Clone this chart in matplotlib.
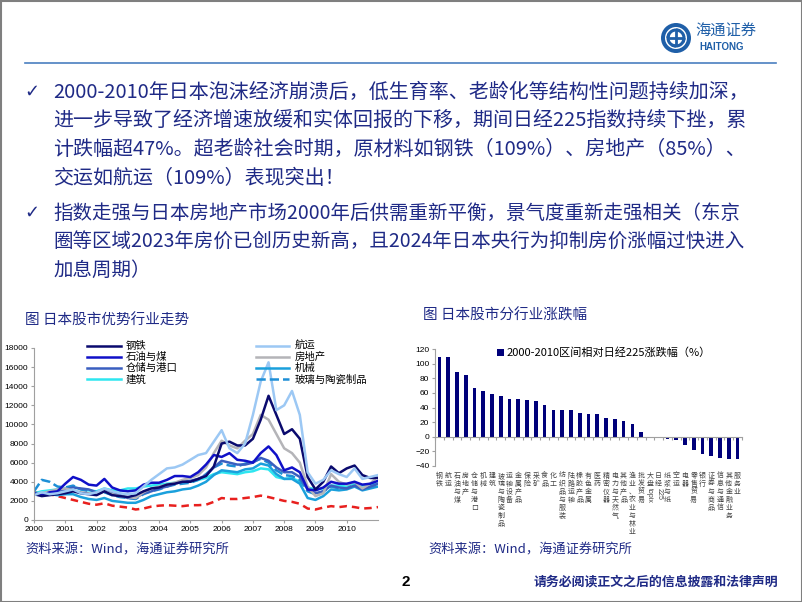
import numpy as np
import matplotlib
matplotlib.use("Agg")
import matplotlib.pyplot as plt
from matplotlib.patches import Circle, Rectangle, Arc

plt.rcParams['font.family'] = ['Noto Sans CJK SC', 'DejaVu Sans']

NAVY = "#1f2a86"

# ---------------- 数据 ----------------
# 季度数据 2000Q1 ~ 2011Q1
years = 2000 + np.arange(45) / 4

steel = [2700, 2500, 2600, 2700, 2800, 3000, 2800, 2700, 2600, 3000, 2600, 2500,
         2400, 2600, 3000, 3300, 3400, 3700, 3800, 4000, 4000, 4300, 4600, 5600,
         8000, 8200, 7800, 7800, 8500, 10500, 13000, 11000, 9000, 9500, 8500, 4500,
         3200, 4000, 5600, 4900, 5400, 5700, 4700, 4400, 4400]
oil_coal = [2800, 2600, 2900, 3000, 3800, 4500, 4200, 3700, 3600, 4300, 3400, 3100,
            3000, 3100, 3700, 3900, 3900, 4200, 4600, 4600, 4500, 5000, 5800, 6800,
            6600, 7000, 6300, 6200, 6000, 7000, 7700, 6800, 5200, 5500, 5000, 3200,
            3100, 3400, 4000, 3800, 3800, 4000, 3700, 3800, 4100]
warehouse = [2700, 2600, 2800, 3000, 3200, 3400, 3300, 3200, 2900, 3100, 2800, 2600,
             2300, 2300, 2800, 3000, 3300, 3500, 3800, 4000, 4100, 4300, 4700, 5500,
             6200, 6000, 5800, 5800, 6000, 6500, 6200, 5500, 5000, 5000, 4500, 3200,
             2800, 3000, 3600, 3400, 3300, 3600, 3200, 3500, 3800]
construction = [2800, 3000, 3100, 3200, 3300, 3500, 3200, 3100, 3000, 3300, 3100, 3100,
                3300, 3300, 3500, 3600, 3700, 3800, 3900, 4000, 4000, 4200, 4400, 4800,
                5000, 4900, 4800, 5000, 5100, 5400, 5300, 4500, 4300, 4400, 4000, 3400,
                3200, 3300, 3600, 3600, 3500, 3800, 3600, 3700, 3800]
shipping = [2600, 2900, 2700, 2800, 3000, 3200, 2800, 2700, 2900, 3300, 3000, 2800,
            2700, 2800, 3500, 4200, 4800, 5400, 5500, 5800, 6300, 6800, 7000, 8200,
            9400, 7500, 7000, 8000, 11000, 14500, 16500, 11500, 12000, 13500, 11000, 5000,
            3800, 4200, 5200, 4800, 4500, 5400, 4300, 4500, 4700]
real_estate = [2700, 2800, 3000, 3200, 3300, 3100, 2900, 2800, 2800, 3000, 2700, 2500,
               2400, 2300, 2900, 3300, 3500, 3700, 3900, 4200, 4400, 4700, 5500, 7000,
               8300, 7800, 7500, 8300, 9000, 11000, 10500, 9000, 7500, 7000, 6000, 3500,
               2500, 2800, 4800, 4000, 3700, 4000, 3300, 3800, 4600]
machinery = [2800, 2700, 2700, 2600, 2700, 2700, 2400, 2200, 2100, 2300, 2000, 1900,
             1800, 1800, 2100, 2500, 2700, 2900, 3000, 3200, 3300, 3600, 4000, 4700,
             5200, 5100, 5000, 5300, 5400, 5900, 5700, 4800, 4300, 4300, 3800, 2300,
             2100, 2500, 3200, 3100, 3200, 3500, 3100, 3300, 3500]
glass = [3000, 4200, 4000, 3500, 3400, 3600, 3200, 3000, 2700, 2900, 2600, 2400,
         2300, 2200, 2700, 3000, 3200, 3500, 3700, 3800, 3900, 4200, 4800, 5500,
         5900, 5700, 5600, 5900, 6100, 6400, 6000, 5200, 4700, 4600, 4200, 3000,
         2700, 3000, 3500, 3300, 3300, 3700, 3300, 3400, 3600]
nikkei = [2900, 2850, 2700, 2500, 2300, 2100, 1900, 1700, 1600, 1750, 1500, 1400,
          1300, 1100, 1200, 1400, 1500, 1550, 1500, 1450, 1550, 1550, 1600, 1900,
          2300, 2200, 2200, 2300, 2400, 2550, 2400, 2200, 2000, 1900, 1700, 1200,
          1100, 1300, 1450, 1350, 1450, 1350, 1200, 1250, 1350]

industries = ["钢铁", "航运", "石油与煤", "房地产", "仓储与港口", "机械", "建筑",
              "玻璃与陶瓷制品", "运输设备", "金属产品", "保险", "采矿", "食品", "化工",
              "纺织品与服装", "陆路运输", "橡胶产品", "有色金属", "医药", "精密仪器",
              "电力与天然气", "其他产品", "渔业、农业与林业", "批发贸易", "大盘topix",
              "日经225", "纸浆与纸", "空运", "电器", "零售贸易", "银行", "证券与商品",
              "信息与通信", "其他金融业务", "服务业"]
rel_return = [109, 109, 89, 85, 66, 62, 59, 56, 51, 51, 50, 49, 43, 37, 37, 36, 32,
              31, 31, 26, 24, 21, 17, 7, 0, 0, -3, -4, -11, -18, -23, -27, -29, -31, -31]

# ---------------- 画布 ----------------
fig = plt.figure(figsize=(8.02, 6.02), dpi=100)
bg = fig.add_axes([0, 0, 1, 1])
bg.set_xlim(0, 802)
bg.set_ylim(602, 0)
bg.axis("off")
bg.add_patch(Rectangle((0.5, 0.5), 801, 601, fill=False, ec="#7f7f7f", lw=1.5))

# 顶部 logo 与分隔线
bg.plot([25, 776], [63, 63], color="#4a7fc0", lw=1.2)
bg.add_patch(Circle((676, 38), 15, fc="#1f5fa8", ec="none"))
bg.add_patch(Circle((676, 38), 11, fc="white", ec="none"))
for ang in (0, 90, 180, 270):
    bg.add_patch(Arc((676, 38), 16, 16, angle=ang, theta1=0, theta2=120,
                     color="#1f5fa8", lw=2.2))
bg.plot([670, 682], [38, 38], color="#1f5fa8", lw=2)
bg.plot([676, 676], [32, 44], color="#1f5fa8", lw=2)
bg.text(695, 31, "海通证券", fontsize=11, color="#1f5fa8", va="center",
        style="italic")
bg.text(722, 47, "HAITONG", fontsize=7, color="#1f5fa8", va="center",
        ha="center", fontweight="bold", family=["Liberation Sans"])

# 正文要点
lines1 = ["2000-2010年日本泡沫经济崩溃后，低生育率、老龄化等结构性问题持续加深，",
          "进一步导致了经济增速放缓和实体回报的下移，期间日经225指数持续下挫，累",
          "计跌幅超47%。超老龄社会时期，原材料如钢铁（109%）、房地产（85%）、",
          "交运如航运（109%）表现突出！"]
lines2 = ["指数走强与日本房地产市场2000年后供需重新平衡，景气度重新走强相关（东京",
          "圈等区域2023年房价已创历史新高，且2024年日本央行为抑制房价涨幅过快进入",
          "加息周期）"]
for ys, lines, fs in ((92, lines1, 14.4), (213, lines2, 14.0)):
    bg.text(32, ys, "✓", fontsize=13, color=NAVY, va="center", ha="center",
            family=["DejaVu Sans"])
    for k, s in enumerate(lines):
        bg.text(53, ys + k * 28.8, s, fontsize=fs, color=NAVY, va="center")

# 图标题与来源
bg.text(25, 321, "图 日本股市优势行业走势", fontsize=10.5, color=NAVY, va="center")
bg.text(423, 316, "图 日本股市分行业涨跌幅", fontsize=10.5, color=NAVY, va="center")
bg.text(25, 550, "资料来源：Wind，海通证券研究所", fontsize=9.5, color=NAVY, va="center")
bg.text(428, 550, "资料来源：Wind，海通证券研究所", fontsize=9.5, color=NAVY, va="center")

# 页脚
bg.text(402, 582, "2", fontsize=11, fontweight="bold", va="center",
        family=["Liberation Sans"])
bg.text(778, 582, "请务必阅读正文之后的信息披露和法律声明", fontsize=9.3,
        fontweight="bold", color=NAVY, va="center", ha="right")

# ---------------- 左图：行业走势 ----------------
ax1 = fig.add_axes([34 / 802, (602 - 520) / 602, 344 / 802, 172 / 602])
series = [
    ("钢铁", steel, "#0a0a6e", "-"),
    ("石油与煤", oil_coal, "#1010c8", "-"),
    ("仓储与港口", warehouse, "#3a5fc0", "-"),
    ("建筑", construction, "#2ee6f0", "-"),
    ("航运", shipping, "#9cc8f4", "-"),
    ("房地产", real_estate, "#b4b4b8", "-"),
    ("机械", machinery, "#1aa0dc", "-"),
    ("玻璃与陶瓷制品", glass, "#1e8fd6", "--"),
]
ax1.plot(years, nikkei, color="#e8201e", lw=1.8, ls=(0, (3, 2)))
order = [3, 6, 7, 2, 5, 1, 0, 4]
handles = {}
for idx in order:
    name, vals, col, ls = series[idx]
    (h,) = ax1.plot(years, vals, color=col, lw=1.8, ls=ls, label=name)
    handles[idx] = h
ax1.set_xlim(2000, 2011)
ax1.set_ylim(0, 18000)
ax1.set_xticks(range(2000, 2011))
ax1.set_yticks(range(0, 18001, 2000))
for s in ("top", "right"):
    ax1.spines[s].set_visible(False)
for s in ("left", "bottom"):
    ax1.spines[s].set_color("#a0a0a0")
ax1.tick_params(labelsize=6, length=2, color="#a0a0a0", pad=2)
for lab in ax1.get_xticklabels() + ax1.get_yticklabels():
    lab.set_family(["Liberation Sans"])
ax1.legend([handles[i] for i in range(8)], [series[i][0] for i in range(8)],
           ncol=2, frameon=False, loc="upper left", bbox_to_anchor=(0.14, 1.07),
           fontsize=7.5, handlelength=3.2, labelspacing=0.1, columnspacing=7.5,
           handletextpad=0.5, borderpad=0)

# ---------------- 右图：分行业涨跌幅 ----------------
ax2 = fig.add_axes([435 / 802, (602 - 466) / 602, 307 / 802, 117 / 602])
x = np.arange(len(industries))
ax2.bar(x, rel_return, width=0.42, color="#00007a",
        label="2000-2010区间相对日经225涨跌幅（%）")
ax2.set_xlim(-0.5, len(industries) - 0.5)
ax2.set_ylim(-40, 120)
ax2.set_yticks(range(-40, 121, 20))
ax2.spines["top"].set_visible(False)
ax2.spines["right"].set_visible(False)
ax2.spines["left"].set_color("#a0a0a0")
ax2.spines["bottom"].set_position(("data", 0))
ax2.spines["bottom"].set_color("#a0a0a0")
ax2.set_xticks(np.arange(len(industries) + 1) - 0.5)
ax2.set_xticklabels([])
ax2.tick_params(axis="x", length=2, color="#a0a0a0")
ax2.tick_params(axis="y", labelsize=6, length=2, color="#a0a0a0", pad=2)
for lab in ax2.get_yticklabels():
    lab.set_family(["Liberation Sans"])
ax2.legend(loc="upper center", bbox_to_anchor=(0.55, 1.06), frameon=False,
           fontsize=8, handlelength=0.6, handleheight=0.6, handletextpad=0.2,
           borderpad=0)

# 竖排行业名称
pitch = 5.8
for i, name in enumerate(industries):
    off = -4
    k = 0
    while k < len(name):
        ch = name[k]
        if ch.isascii():
            j = k
            while j < len(name) and name[j].isascii():
                j += 1
            run = name[k:j]
            ax2.annotate(run, xy=(i, 0), xycoords=("data", "axes fraction"),
                         xytext=(0, off), textcoords="offset points",
                         fontsize=5, rotation=-90, ha="center", va="top",
                         family=["Liberation Sans"], color="#444444")
            off -= len(run) * 2.8 + 1
            k = j
        else:
            ax2.annotate(ch, xy=(i, 0), xycoords=("data", "axes fraction"),
                         xytext=(0, off), textcoords="offset points",
                         fontsize=5, ha="center", va="top", color="#444444")
            off -= pitch
            k += 1

fig.savefig("out.png", dpi=100)
